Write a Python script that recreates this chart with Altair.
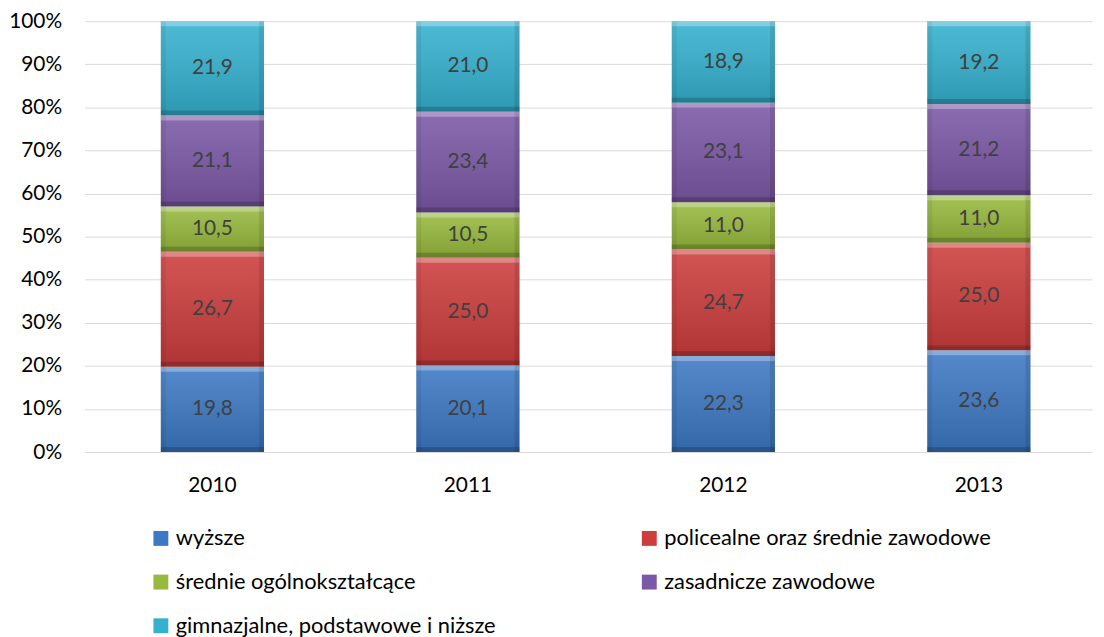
import altair as alt
import pandas as pd

years = ["2010", "2011", "2012", "2013"]
categories = [
    "wyższe",
    "policealne oraz średnie zawodowe",
    "średnie ogólnokształcące",
    "zasadnicze zawodowe",
    "gimnazjalne, podstawowe i niższe",
]
wyzsze = [19.8, 20.1, 22.3, 23.6]
policealne = [26.7, 25.0, 24.7, 25.0]
srednie_ogolne = [10.5, 10.5, 11.0, 11.0]
zasadnicze = [21.1, 23.4, 23.1, 21.2]
gimnazjalne = [21.9, 21.0, 18.9, 19.2]
colors = ["#3C78C3", "#CC3D3C", "#97B93D", "#7B58A6", "#35B1CF"]
y_ticks = [0, 10, 20, 30, 40, 50, 60, 70, 80, 90, 100]

series = [wyzsze, policealne, srednie_ogolne, zasadnicze, gimnazjalne]
rows = []
for ci, (cat, vals) in enumerate(zip(categories, series)):
    for yr, v in zip(years, vals):
        rows.append({"year": yr, "category": cat, "order": ci, "value": v})
df = pd.DataFrame(rows)

FONT = "Lato"

x_enc = alt.X(
    "year:N",
    sort=years,
    scale=alt.Scale(paddingInner=0.596, paddingOuter=0.27, align=0.5536),
    axis=alt.Axis(
        title=None, labelAngle=0, domain=False, ticks=False, grid=False,
        labelFont=FONT, labelFontSize=21, labelColor="#000000", labelPadding=23,
    ),
)
y_scale = alt.Scale(domain=[0, 100], nice=False)
y_axis = alt.Axis(
    title=None, values=y_ticks, labelExpr="datum.value + '%'",
    domain=False, ticks=False, grid=True, gridColor="#D9D9D9", gridWidth=1,
    labelFont=FONT, labelFontSize=21, labelColor="#000000", labelPadding=23,
)


def yq(field):
    return alt.Y(field, scale=y_scale, axis=y_axis)


base = alt.Chart(df).transform_stack(
    stack="value", groupby=["year"], as_=["y0", "y1"],
    sort=[alt.SortField("order", order="ascending")],
)

bars = base.mark_bar().encode(
    x=x_enc,
    y=yq("y1:Q"),
    y2="y0:Q",
    color=alt.Color(
        "category:N",
        scale=alt.Scale(domain=categories, range=colors),
        legend=alt.Legend(
            title=None, orient="none", legendX=66, legendY=510, columns=2,
            direction="horizontal",
            columnPadding=143, rowPadding=22, symbolType="square", symbolSize=225,
            symbolStrokeWidth=0, labelFont=FONT, labelFontSize=22,
            labelColor="#000000", labelOffset=4, labelLimit=600, padding=0,
        ),
    ),
    order=alt.Order("order:Q"),
)

shade = base.mark_bar(
    color=alt.Gradient(
        gradient="linear",
        stops=[
            alt.GradientStop(color="rgba(255,255,255,0.12)", offset=0),
            alt.GradientStop(color="rgba(0,0,0,0.14)", offset=1),
        ],
        x1=0, x2=0, y1=0, y2=1,
    )
).encode(x=x_enc, y=yq("y1:Q"), y2="y0:Q")

top_strip = base.mark_bar(color="white", opacity=0.3, y2Offset=5).encode(
    x=x_enc, y=yq("y1:Q"), y2="y1:Q"
)
bottom_strip = base.mark_bar(color="black", opacity=0.18, yOffset=-5).encode(
    x=x_enc, y=yq("y0:Q"), y2="y0:Q"
)
left_strip = base.mark_bar(color="black", opacity=0.06, width=5, xOffset=-49.5).encode(
    x=x_enc, y=yq("y1:Q"), y2="y0:Q"
)
right_strip = base.mark_bar(color="black", opacity=0.1, width=5, xOffset=49.5).encode(
    x=x_enc, y=yq("y1:Q"), y2="y0:Q"
)

labels = base.transform_calculate(
    mid="(datum.y0 + datum.y1) / 2",
    lab="replace(format(datum.value, '.1f'), '.', ',')",
).mark_text(font=FONT, fontSize=21, color="#404040").encode(
    x=x_enc, y=yq("mid:Q"), text="lab:N"
)

chart = (
    alt.layer(bars, shade, top_strip, bottom_strip, left_strip, right_strip, labels)
    .properties(
        width=1015, height=434, autosize=alt.AutoSizeParams(type="none"),
        padding={"left": 77, "top": 11, "right": 4, "bottom": 184},
        background="white",
    )
    .configure_view(stroke=None)
)

chart.save("out.html", embed_options={"renderer": "svg", "actions": False})
